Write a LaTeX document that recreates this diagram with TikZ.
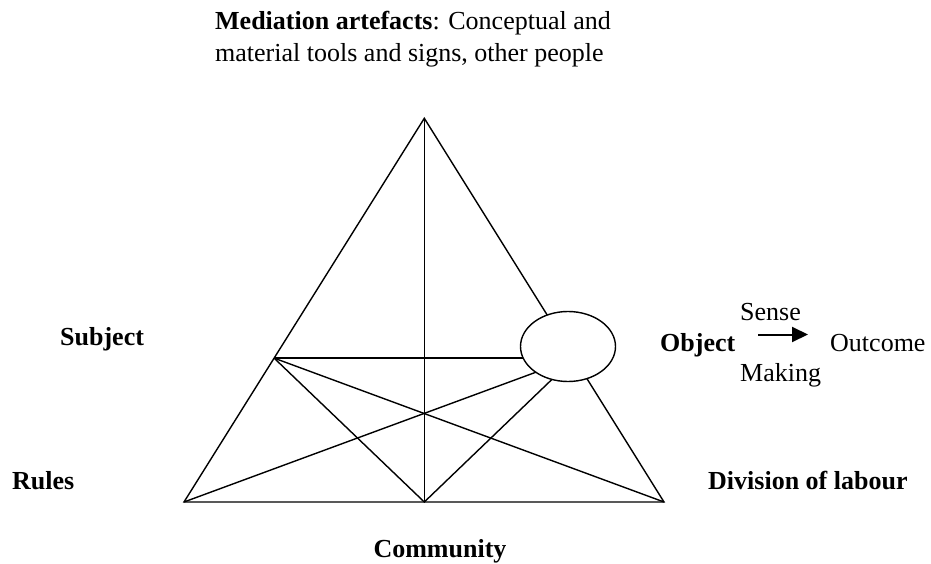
\documentclass[tikz,border=0pt]{standalone}
\usepackage{fontspec}
\setmainfont{Liberation Serif}
\usetikzlibrary{shapes.geometric,calc,arrows.meta}
\begin{document}
\begin{tikzpicture}[x=1pt,y=-1pt,
  edge/.style={line width=1.4pt},
  lbl/.style={font=\fontsize{26}{32}\selectfont\bfseries, inner sep=0pt, anchor=base west},
  txt/.style={font=\fontsize{26}{32}\selectfont, inner sep=0pt, anchor=base west},
  flow/.style={line width=2pt, -{Triangle[length=16pt,width=15pt]}},
]
\useasboundingbox (0,0) rectangle (931,564);

% corners of the activity triangle
\coordinate (A)  at (424.3,118.3);
\coordinate (BL) at (184,502);
\coordinate (BR) at (664,502);
\coordinate (BM) at (424.3,502);
\coordinate (LM) at ($(A)!0.625!(BL)$);
\coordinate (RM) at ($(A)!0.625!(BR)$);

% triangle and inner links
\draw[edge] (A) -- (BL) -- (BR) -- cycle;
\draw[edge] (A) -- (BM);
\draw[edge] (LM) -- (RM);
\draw[edge] (LM) -- (BR);
\draw[edge] (BL) -- (RM);
\draw[edge] (LM) -- (BM) -- (RM);

% object ellipse sits over the right-hand vertex
\node[ellipse, draw, fill=white, line width=1.4pt,
      minimum width=95pt, minimum height=70pt, inner sep=0pt] (objshape) at (568,346.5) {};

% labels
\node[txt] (med1) at (215,30) {\textbf{Mediation artefacts}: Conceptual and};
\node[txt] (med2) at (215,62) {material tools and signs, other people};
\node[lbl] (subj) at (60,345) {Subject};
\node[lbl] (rules) at (12,489) {Rules};
\node[lbl] (objlbl) at (660,351) {Object};
\node[txt] (sense) at (740,320) {Sense};
\node[txt] (making) at (740,381.5) {Making};
\node[txt] (outc) at (830,351) {Outcome};
\node[lbl] (div) at (708,489) {Division of labour};
\node[lbl, anchor=base] (comm) at (440,557.5) {Community};

% sense-making arrow from object to outcome
\coordinate (arrS) at (758,334.5);
\coordinate (arrE) at (808,334.5);
\draw[flow] (arrS) -- (arrE);
\end{tikzpicture}
\end{document}
